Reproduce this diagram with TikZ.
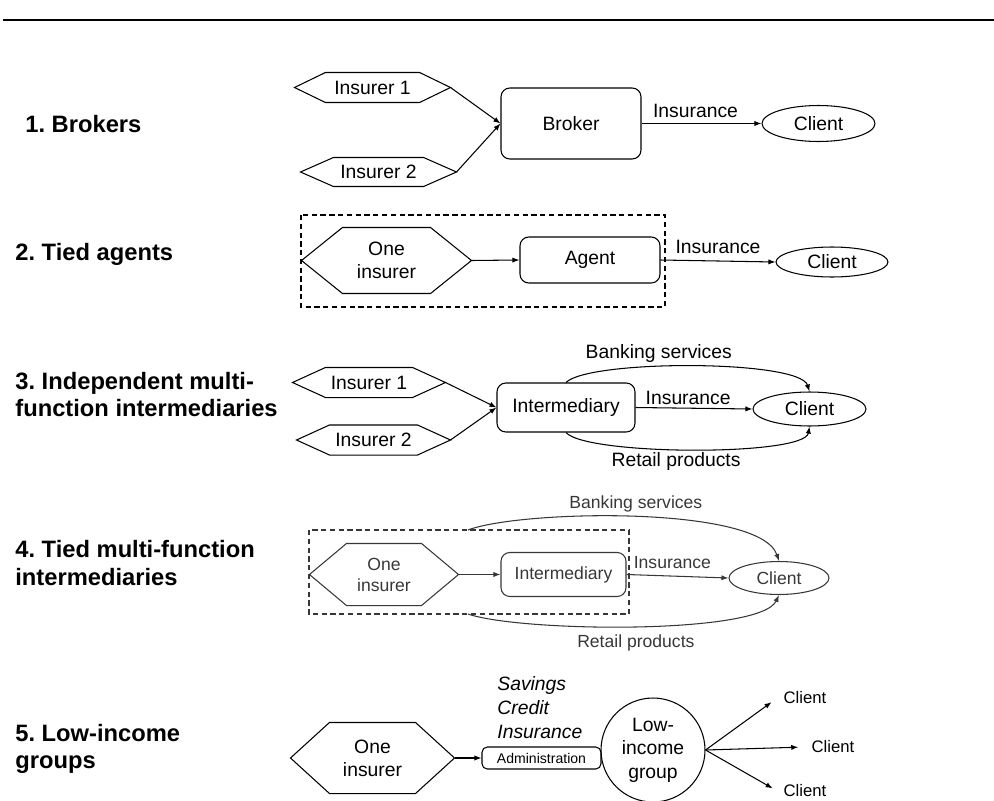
\documentclass[tikz,border=0pt]{standalone}
\usepackage{fontspec}
\setmainfont{Liberation Sans}
\usetikzlibrary{arrows.meta,calc,shapes.geometric}
\definecolor{rowgray}{RGB}{55,55,55}
% hexagon round a named node: name, slant
\newcommand{\hexa}[2]{%
  \draw (#1.west) -- ([xshift=#2]#1.north west) -- ([xshift=-#2]#1.north east)
    -- (#1.east) -- ([xshift=-#2]#1.south east) -- ([xshift=#2]#1.south west) -- cycle;}

\begin{document}
\frenchspacing
\begin{tikzpicture}[x=0.02cm, y=-0.02cm, line width=0.6pt,
    >={Latex[length=4pt,width=3pt]},
    every node/.style={font=\fontsize{11}{13}\selectfont},
    head/.style={font=\fontsize{13.5}{15.6}\selectfont\bfseries, align=left, anchor=west},
    hexbox/.style={inner sep=0pt, align=center},
    box/.style={draw, rounded corners=5pt, inner sep=0pt},
    client/.style={draw, ellipse, inner sep=0pt},
    lbl/.style={inner sep=1.5pt},
    frame/.style={dash pattern=on 3pt off 2pt}]
    \useasboundingbox (0,0) rectangle (994,801);
    \draw [line width=1.4pt] (3,20) -- (994,20);

    % 1. Brokers
    \node [head] (lab1) at (19,124) {1. Brokers};
    \node [hexbox, minimum width=3.1cm, minimum height=0.58cm] (ins1a) at (372.5,87.5) {Insurer 1};
    \hexa{ins1a}{0.62cm}
    \node [hexbox, minimum width=3.1cm, minimum height=0.56cm] (ins1b) at (378.5,172) {Insurer 2};
    \hexa{ins1b}{0.66cm}
    \node [box, minimum width=2.8cm, minimum height=1.42cm] (broker) at (571,123.5) {Broker};
    \node [client, minimum width=2.26cm, minimum height=0.72cm] (client1) at (818.5,123.5) {Client};
    \draw [->] (ins1a.east) -- (broker.west);
    \draw [->] (ins1b.east) -- (broker.west);
    \draw [->] (broker.east) -- (client1.west) node[lbl, above=1.4pt, pos=0.45] {Insurance};

    % 2. Tied agents
    \node [head] (lab2) at (9,254) {2. Tied agents};
    \draw [frame] (301,215) rectangle (665,307);
    \node [hexbox, minimum width=3.38cm, minimum height=1.3cm] (one2) at (386.5,260.5) {One\\insurer};
    \hexa{one2}{0.82cm}
    \node [box, minimum width=2.8cm, minimum height=0.92cm] (agent) at (590,260) {Agent};
    \node [client, minimum width=2.24cm, minimum height=0.6cm] (client2) at (832,262) {Client};
    \draw [->] (one2.east) -- (agent.west);
    \draw [->] (agent.east) -- (client2.west) node[lbl, above=2.5pt, pos=0.5] {Insurance};

    % 3. Independent multi-function intermediaries
    \node [head] (lab3) at (9,394.5) {3. Independent multi-\\function intermediaries};
    \node [hexbox, minimum width=3.04cm, minimum height=0.58cm] (ins3a) at (369,382.5) {Insurer 1};
    \hexa{ins3a}{0.66cm}
    \node [hexbox, minimum width=3.06cm, minimum height=0.58cm] (ins3b) at (373.5,440) {Insurer 2};
    \hexa{ins3b}{0.66cm}
    \node [box, minimum width=2.76cm, minimum height=0.98cm] (inter3) at (566,407.5) {Intermediary};
    \node [client, minimum width=2.26cm, minimum height=0.68cm] (client3) at (809.5,409) {Client};
    \draw [->] (ins3a.east) -- (inter3.west);
    \draw [->] (ins3b.east) -- (inter3.west);
    \draw [->] (inter3.east) -- (client3.west) node[lbl, above=0pt, pos=0.45] {Insurance};
    \draw [->] (inter3.north) .. controls +(23,-23) and +(-10,-32) .. (client3.north)
        node[lbl, above=0.5pt, pos=0.4] {Banking services};
    \draw [->] (inter3.south) .. controls +(20,23) and +(-5,30) .. (client3.south)
        node[lbl, below=0pt, pos=0.45] {Retail products};

    % 4. Tied multi-function intermediaries
    \node [head] (lab4) at (9,563) {4. Tied multi-function\\intermediaries};
    \begin{scope}[color=rowgray, every node/.append style={font=\fontsize{10}{12}\selectfont}]
        \draw [frame] (309,530) rectangle (629,614);
        \coordinate (bank4) at (468,530);
        \coordinate (retail4) at (468,614);
        \node [hexbox, minimum width=2.96cm, minimum height=1.22cm] (one4) at (384,574.5) {One\\insurer};
        \hexa{one4}{0.74cm}
        \node [box, minimum width=2.5cm, minimum height=0.88cm] (inter4) at (563.5,574.5) {Intermediary};
        \node [client, minimum width=2.0cm, minimum height=0.66cm] (client4) at (779,578) {Client};
        \draw [->] (one4.east) -- (inter4.west);
        \draw [->] (inter4.east) -- (client4.west) node[lbl, above=2.3pt, pos=0.45] {Insurance};
        \draw [->] (bank4) .. controls (520,510) and (760,505) .. (client4.north)
            node[lbl, above=1pt, pos=0.5] {Banking services};
        \draw [->] (retail4) .. controls (520,632) and (760,635) .. (client4.south)
            node[lbl, below=3pt, pos=0.5] {Retail products};
    \end{scope}

    % 5. Low-income groups
    \node [head] (lab5) at (9,749) {5. Low-income\\groups};
    \node [hexbox, minimum width=3.26cm, minimum height=1.4cm] (one5) at (372.5,758) {One\\insurer};
    \hexa{one5}{0.78cm}
    \node [box, rounded corners=3pt, minimum width=2.38cm, minimum height=0.44cm,
        font=\fontsize{8}{10}\selectfont] (admin) at (541.5,758) {Administration};
    \node [anchor=base west, font=\fontsize{11}{13}\selectfont\itshape] (sav) at (491,690) {Savings};
    \node [anchor=base west, font=\fontsize{11}{13}\selectfont\itshape] (cred) at (491,714) {Credit};
    \node [anchor=base west, font=\fontsize{11}{13}\selectfont\itshape] (insr) at (491,738) {Insurance};
    \node [draw, circle, minimum size=2.08cm, inner sep=0pt, align=center,
        font=\fontsize{11}{13.4}\selectfont] (group5) at (653,750) {Low-\\income\\group};
    \node [font=\fontsize{9.5}{11}\selectfont] (c5a) at (805,698) {Client};
    \node [font=\fontsize{9.5}{11}\selectfont] (c5b) at (833,747) {Client};
    \node [font=\fontsize{9.5}{11}\selectfont] (c5c) at (805,791) {Client};
    \draw [->] (one5.east) -- (admin.west);
    \draw [->, shorten >=4pt] (group5.east) -- (c5a.west);
    \draw [->, shorten >=4pt] (group5.east) -- (c5b.west);
    \draw [->, shorten >=3pt] (group5.east) -- (c5c.west);
\end{tikzpicture}
\end{document}
